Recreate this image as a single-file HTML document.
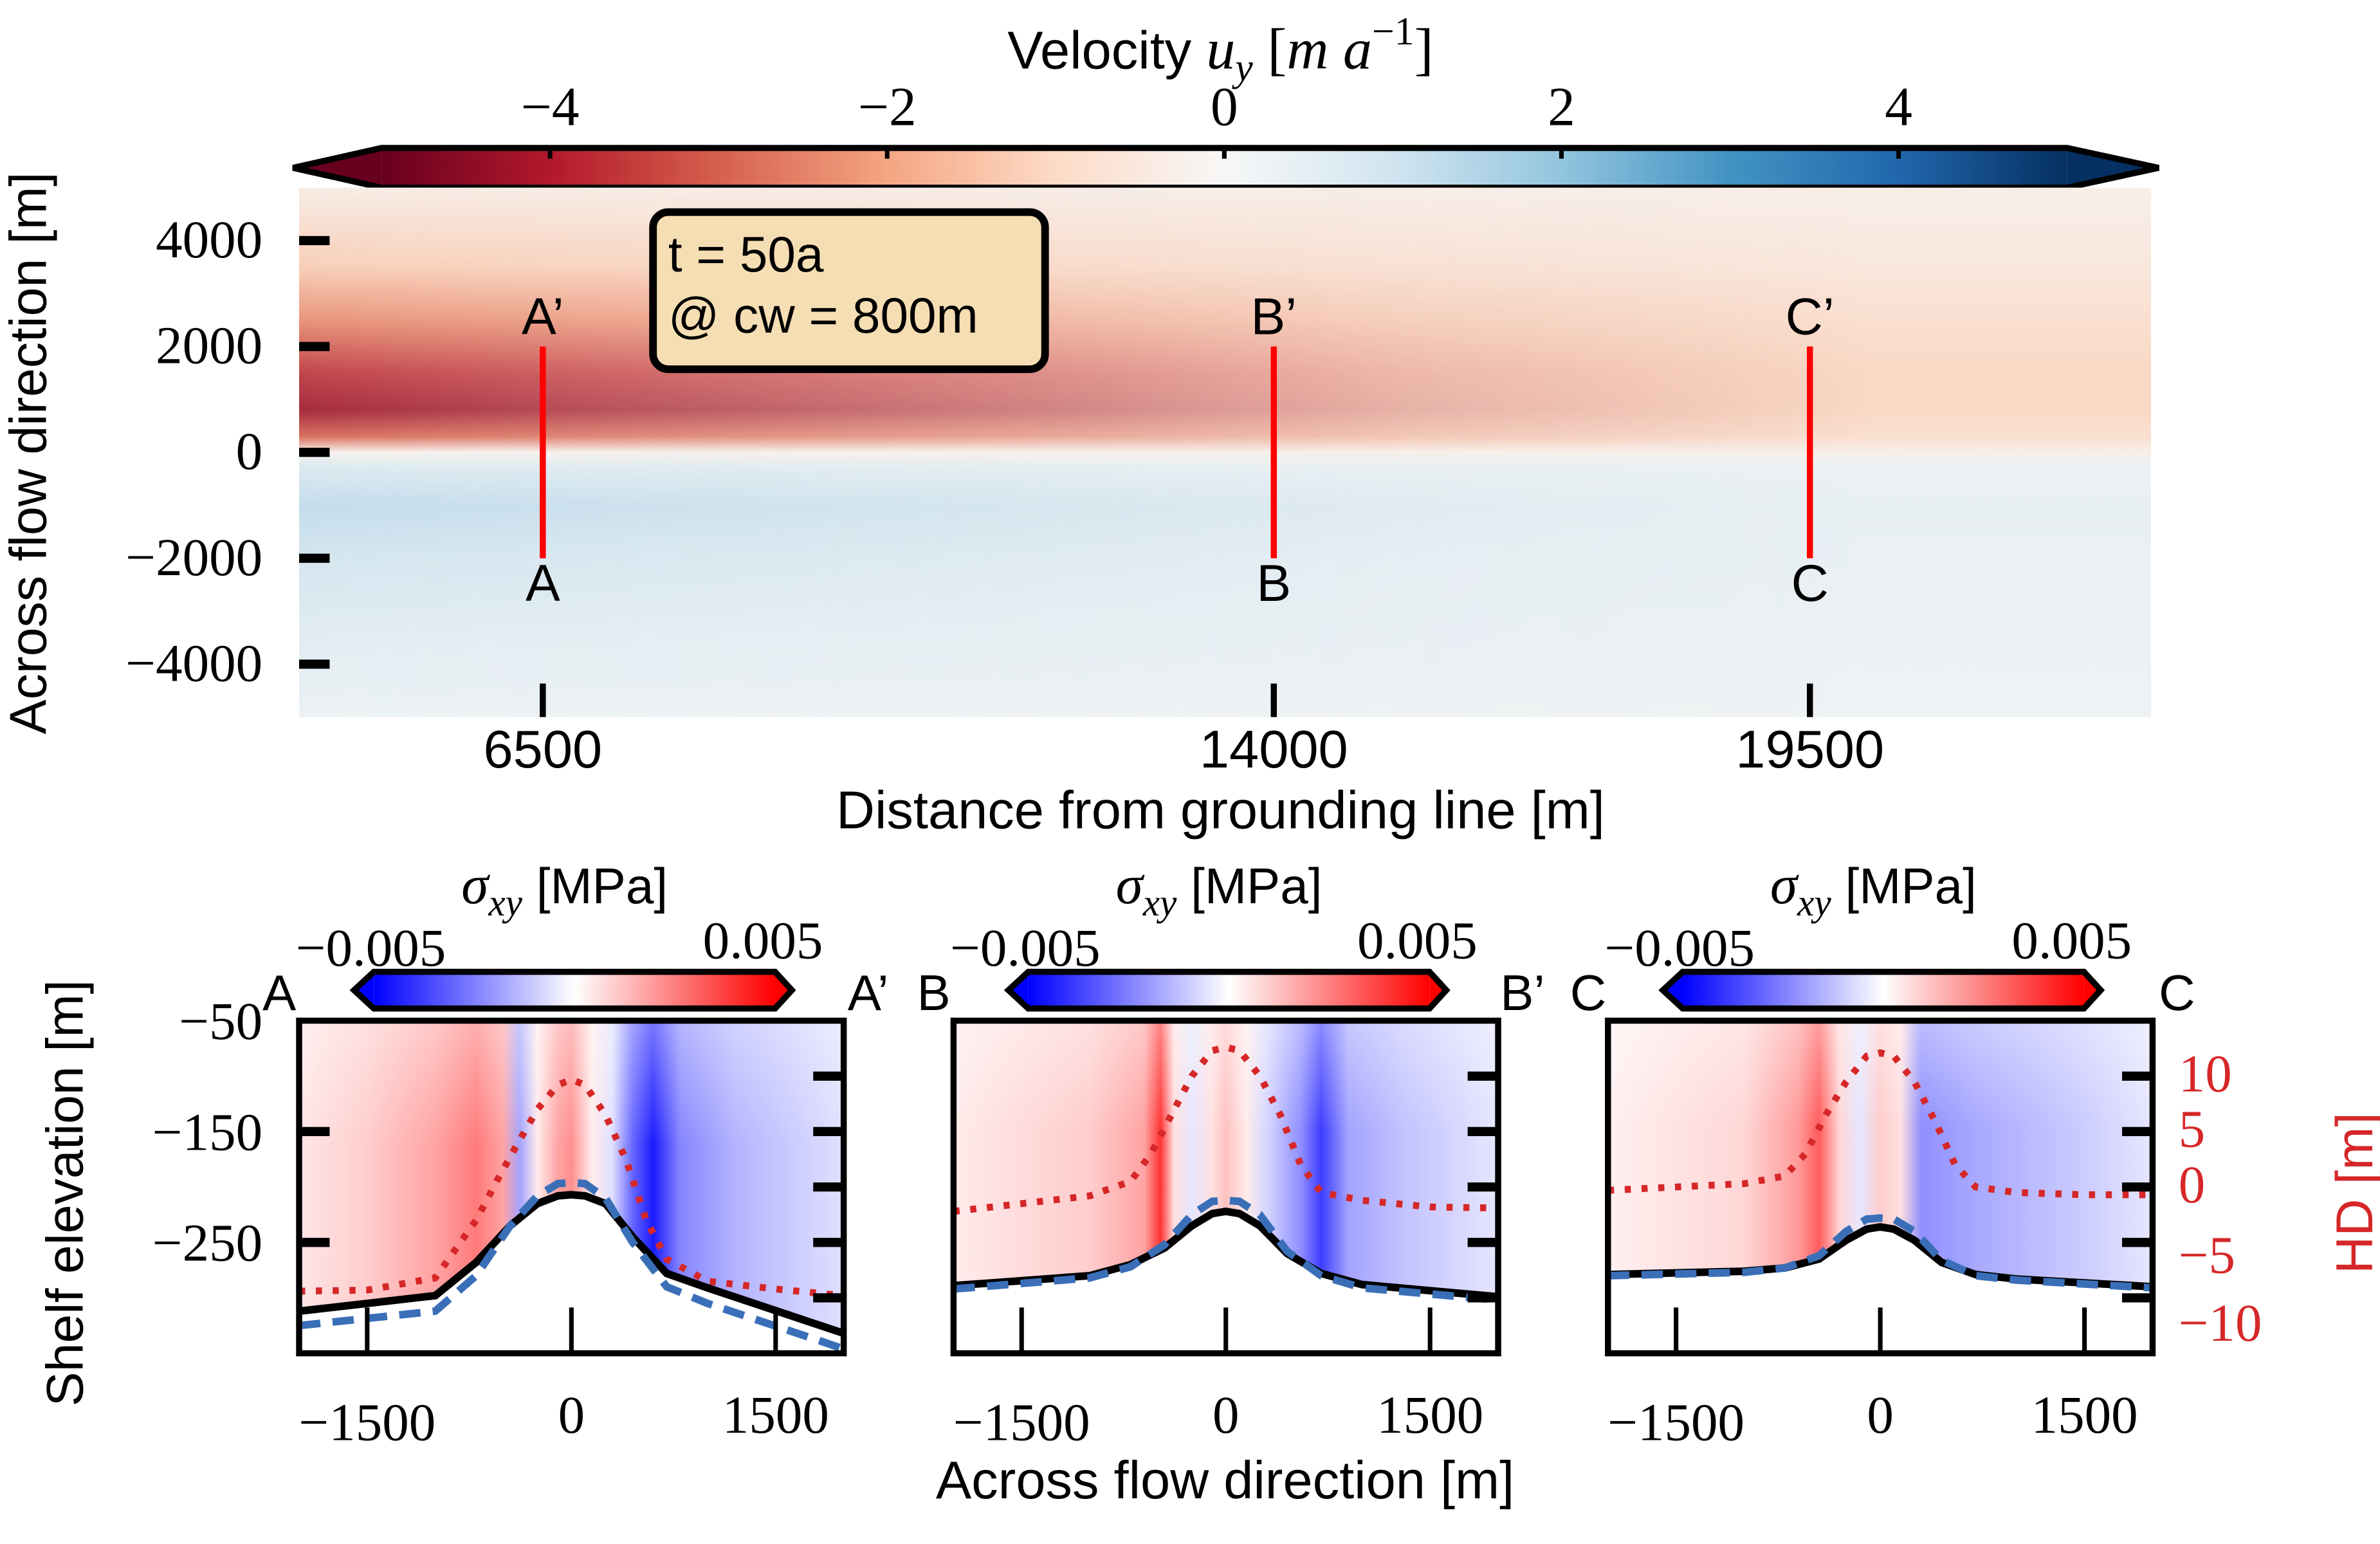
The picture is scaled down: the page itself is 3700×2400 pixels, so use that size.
<!DOCTYPE html>
<html><head><meta charset="utf-8"><style>
html,body{margin:0;padding:0;background:#fff;}
svg{display:block;}
.serif{font-family:"Liberation Serif","DejaVu Serif",serif;}
.sans{font-family:"Liberation Sans","DejaVu Sans",sans-serif;}
</style></head><body>
<svg id="fig" width="3700" height="2400" viewBox="0 0 1560 1012" xmlns="http://www.w3.org/2000/svg">
<defs id="defs"></defs>
<g id="root"></g>
</svg>
<script>
// ---------- data ----------
const cbTicks=[-4,-2,0,2,4];
const mapYTicks=[4000,2000,0,-2000,-4000];
const mapXTicks=[6500,14000,19500];
const sectionNames=[["A","A’"],["B","B’"],["C","C’"]];
const profileY=[5000,3500,2500,1500,800,300,0,-300,-1000,-2000,-3500,-5000];
const uyLeft=[-0.4,-1.3,-2.4,-3.7,-4.3,-3.0,-0.2,0.8,1.3,1.0,0.6,0.3];
const uyRight=[-0.3,-0.6,-0.9,-1.1,-1.1,-0.9,-0.3,0.3,0.4,0.35,0.3,0.25];

const elevTicks=[-150,-250];
const elevTickLabels=[-50,-150,-250];
const hdTicks=[10,5,0,-5,-10];
const acrossTicks=[-1500,0,1500];

const bedX1=[-2000,-1000,-700,-450,-250,-100,0,100,250,450,700,1000,2000];
const bedY1=[-312,-298,-268,-235,-215,-208,-207,-208,-215,-245,-278,-291,-332];
const blueY1=[-325,-312,-280,-235,-208,-197,-196,-197,-210,-250,-290,-305,-346];
const hdX1=[-2000,-1500,-1000,-700,-550,-400,-250,-100,0,100,250,400,550,700,1000,1500,2000];
const hd1=[-9.4,-9.3,-8.2,-3,0.5,3.8,7,9.2,9.7,9.2,6.5,2.5,-3,-6.5,-8.5,-9.2,-9.8];

const bedY2=[-289,-280,-270,-255,-235,-224,-222,-224,-235,-260,-278,-288,-299];
const blueY2=[-292,-282,-272,-252,-225,-213,-212,-213,-225,-258,-280,-291,-302];
const hd2=[-2.2,-1.5,-0.8,0.5,3,6.5,10,12.3,12.6,12.3,10,6.5,2,-0.5,-1.2,-1.8,-1.9];

const bedY3=[-279,-276,-273,-265,-248,-238,-236,-238,-248,-268,-279,-283,-290];
const blueY3=[-280,-277,-273,-262,-240,-229,-228,-229,-240,-266,-280,-284,-291];
const hd3=[-0.3,0,0.3,1,3,6.5,9.5,11.8,12.1,11.8,9.5,6,2,0,-0.5,-0.7,-0.7];

const sigX1=[-2000,-1500,-1000,-700,-500,-380,-250,-100,0,150,300,450,600,800,1200,2000];
const sig1=[0.0005,0.001,0.0018,0.0026,0.0018,-0.0018,0.0004,0.0018,0.0022,0.0004,-0.0006,-0.003,-0.0045,-0.0024,-0.0015,-0.0006];
const sigX2=[-2000,-1000,-600,-480,-380,-250,-100,0,150,300,550,700,900,1300,2000];
const sig2=[0.0004,0.001,0.0018,0.004,0.0006,-0.0005,0.0006,0.0012,0.0004,-0.0008,-0.0022,-0.0038,-0.0018,-0.0012,-0.0005];
const sigX3=[-2000,-1000,-600,-450,-300,-150,0,150,300,450,700,1500,2000];
const sig3=[0.0003,0.0008,0.002,0.0032,0.0008,-0.0005,0.001,0.0006,-0.0022,-0.002,-0.0017,-0.001,-0.0005];

// ---------- helpers ----------
const NS="http://www.w3.org/2000/svg";
const root=document.getElementById('root');
const defs=document.getElementById('defs');
function el(tag,attrs,parent,text){const e=document.createElementNS(NS,tag);for(const k in attrs)e.setAttribute(k,attrs[k]);if(text!==undefined)e.textContent=text;(parent||root).appendChild(e);return e;}
const RDBU=[[103,0,31],[178,24,43],[214,96,77],[244,165,130],[253,219,199],[247,247,247],[209,229,240],[146,197,222],[67,147,195],[33,102,172],[5,48,97]];
function rdbu(v){let t=(v+5)/10;t=Math.max(0,Math.min(1,t))*10;const i=Math.min(9,Math.floor(t));const f=t-i;const a=RDBU[i],b=RDBU[i+1];return `rgb(${a.map((c,k)=>Math.round(c+(b[k]-c)*f)).join(',')})`;}
function bwr(v){let t=Math.max(-1,Math.min(1,v/0.005));if(t<0){const w=Math.round(255*(1+t));return `rgb(${w},${w},255)`;}const w=Math.round(255*(1-t));return `rgb(255,${w},${w})`;}
function minus(n){return String(n).replace('-','−');}

// ---------- top colorbar ----------
const cbL=250,cbR=1355,cbT=97,cbB=123;
const cbx=v=>cbL+(v+5)/10*(cbR-cbL);
let g=el('linearGradient',{id:'gcb',x1:'0',x2:'1',y1:'0',y2:'0'},defs);
for(let i=0;i<=20;i++){el('stop',{offset:i/20,'stop-color':rdbu(-5+i/2)},g);}
const cbg=el('g',{});


el('polygon',{points:`192,110 ${cbL},${cbT} ${cbL},${cbB}`,fill:'rgb(103,0,31)'},cbg);
el('polygon',{points:`1415,110 ${cbR},${cbT} ${cbR},${cbB}`,fill:'rgb(5,48,97)'},cbg);
el('rect',{x:cbL,y:cbT,width:cbR-cbL,height:cbB-cbT,fill:'url(#gcb)'},cbg);
el('polygon',{points:`192,110 ${cbL},${cbT} ${cbR},${cbT} 1415,110 ${cbR},${cbB} ${cbL},${cbB}`,fill:'none',stroke:'#000','stroke-width':4,'stroke-linejoin':'miter'},cbg);
cbTicks.forEach(v=>{
  el('line',{x1:cbx(v),x2:cbx(v),y1:cbT,y2:cbT+7,stroke:'#000','stroke-width':3},cbg);
  const t=el('text',{x:cbx(v),y:82,'text-anchor':'middle','font-size':36,class:'serif'},cbg,minus(v));
  
  
});
const ttl=el('text',{x:800,y:45,'text-anchor':'middle','font-size':35,class:'sans'},root);


ttl.innerHTML='Velocity <tspan class="serif" font-style="italic" font-size="38">u</tspan><tspan class="serif" font-style="italic" font-size="26" dy="8">y</tspan><tspan class="serif" font-size="38" dy="-8"> [</tspan><tspan class="serif" font-style="italic" font-size="38">m a</tspan><tspan class="serif" font-size="26" dy="-16">−1</tspan><tspan class="serif" font-size="38" dy="16">]</tspan>';

// ---------- map ----------
const mL=196,mR=1410,mT=123,mB=470;
const mx=v=>mL+(v-4000)/19000*(mR-mL);
const my=v=>mT+(5000-v)/10000*(mB-mT);
function vgrad(id,vals){const gg=el('linearGradient',{id:id,x1:'0',x2:'0',y1:'0',y2:'1'},defs);
  profileY.forEach((y,i)=>el('stop',{offset:(5000-y)/10000,'stop-color':rdbu(vals[i])},gg));}
vgrad('gright',uyRight);vgrad('gleft',uyLeft);
const mk=el('linearGradient',{id:'gmask',x1:'0',x2:'1',y1:'0',y2:'0'},defs);
[[0,1],[0.15,0.8],[0.4,0.5],[0.6,0.22],[0.85,0]].forEach(s=>el('stop',{offset:s[0],'stop-color':'#fff','stop-opacity':s[1]},mk));
const mask=el('mask',{id:'mmask'},defs);
el('rect',{x:mL,y:mT,width:mR-mL,height:mB-mT,fill:'url(#gmask)'},mask);
const mapg=el('g',{});


el('rect',{x:mL,y:mT,width:mR-mL,height:mB-mT,fill:'url(#gright)'},mapg);
el('rect',{x:mL,y:mT,width:mR-mL,height:mB-mT,fill:'url(#gleft)',mask:'url(#mmask)'},mapg);
el('rect',{x:mL,y:mT,width:mR-mL,height:mB-mT,fill:'rgba(238,240,242,0.12)'},mapg);
mapYTicks.forEach(v=>{
  el('line',{x1:mL,x2:mL+20,y1:my(v),y2:my(v),stroke:'#000','stroke-width':6},mapg);
  const t=el('text',{x:172,y:my(v)+11,'text-anchor':'end','font-size':35,class:'serif'},root,minus(v));
  
  
});
mapXTicks.forEach((v,i)=>{
  el('line',{x1:mx(v),x2:mx(v),y1:mB,y2:mB-22,stroke:'#000','stroke-width':4},mapg);
  const t=el('text',{x:mx(v),y:503,'text-anchor':'middle','font-size':35,class:'sans'},root,String(v));
  
  
  const ln=el('line',{x1:mx(v),x2:mx(v),y1:my(2000),y2:my(-2000),stroke:'#ff0000','stroke-width':4},root);
  
  
  el('text',{x:mx(v),y:my(2000)-8,'text-anchor':'middle','font-size':34,class:'sans'},root,sectionNames[i][1]);
  el('text',{x:mx(v),y:my(-2000)+28,'text-anchor':'middle','font-size':34,class:'sans'},root,sectionNames[i][0]);
});
const box=el('g',{});


el('rect',{x:428,y:139,width:257,height:103,rx:10,fill:'#f5deb3',stroke:'#000','stroke-width':5},box);
el('text',{x:438,y:178,'font-size':33,class:'sans'},box,'t = 50a');
el('text',{x:438,y:218,'font-size':33,class:'sans'},box,'@ cw = 800m');
let t=el('text',{x:0,y:0,transform:'translate(30,297) rotate(-90)','text-anchor':'middle','font-size':34,class:'sans'},root,'Across flow direction [m]');

t=el('text',{x:800,y:543,'text-anchor':'middle','font-size':35,class:'sans'},root,'Distance from grounding line [m]');


// ---------- bottom panels ----------
const pT=669,pB=887,pW=357;
const panelsL=[196,625,1054];
const bedAll=[bedY1,bedY2,bedY3],blueAll=[blueY1,blueY2,blueY3],hdAll=[hd1,hd2,hd3];
const sigXAll=[sigX1,sigX2,sigX3],sigAll=[sig1,sig2,sig3];
const ey=v=>pT+(-50-v)/300*(pB-pT);
const hy=v=>pT+(15-v)/30*(pB-pT);
const rightLabels=['A’','B’','C'];
panelsL.forEach((L,p)=>{
  const px=v=>L+(v+2000)/4000*pW;
  const pg=el('g',{});
  
  
  const gg=el('linearGradient',{id:'gs'+p,x1:'0',x2:'1',y1:'0',y2:'0'},defs);
  sigXAll[p].forEach((x,i)=>el('stop',{offset:(x+2000)/4000,'stop-color':bwr(sigAll[p][i])},gg));
  const fade=el('linearGradient',{id:'gf'+p,x1:'0',x2:'0',y1:'0',y2:'1'},defs);
  el('stop',{offset:0,'stop-color':'#fff','stop-opacity':0.4},fade);
  el('stop',{offset:0.4,'stop-color':'#fff','stop-opacity':0},fade);
  let d=`M${L},${pT} L${L+pW},${pT} `;
  for(let i=bedX1.length-1;i>=0;i--)d+=`L${px(bedX1[i])},${ey(bedAll[p][i])} `;
  d+='Z';
  const hm=el('path',{d:d,fill:'url(#gs'+p+')'},pg);
  
  
  el('path',{d:d,fill:'url(#gf'+p+')'},pg);
  const line=(xs,ys,f)=>xs.map((x,i)=>(i?'L':'M')+px(x)+','+f(ys[i])).join(' ');
  const hd=el('path',{d:line(hdX1,hdAll[p],hy),fill:'none',stroke:'#d62728','stroke-width':4.5,'stroke-dasharray':'4 7'},pg);
  
  const bk=el('path',{d:line(bedX1,bedAll[p],ey),fill:'none',stroke:'#000','stroke-width':5},pg);
  
  const bl=el('path',{d:line(bedX1,blueAll[p],ey),fill:'none',stroke:'#3a6fb8','stroke-width':5,'stroke-dasharray':'14 8'},pg);
  
  el('rect',{x:L,y:pT,width:pW,height:pB-pT,fill:'none',stroke:'#000','stroke-width':4},pg);
  acrossTicks.forEach(v=>{
    el('line',{x1:px(v),x2:px(v),y1:pB,y2:pB-30,stroke:'#000','stroke-width':3},pg);
    const tt=el('text',{x:px(v),y:v<0?944:939,'text-anchor':'middle','font-size':35,class:'serif'},root,minus(v));
    
  });
  hdTicks.forEach(v=>el('line',{x1:L+pW,x2:L+pW-20,y1:hy(v),y2:hy(v),stroke:'#000','stroke-width':6},pg));
  if(p===0){elevTicks.forEach(v=>el('line',{x1:L,x2:L+20,y1:ey(v),y2:ey(v),stroke:'#000','stroke-width':6},pg));}
  const cl=L+49,cr=L+312,ct=637,cb2=661,cm=649;
  const cg=el('linearGradient',{id:'gc'+p,x1:'0',x2:'1',y1:'0',y2:'0'},defs);
  for(let i=0;i<=10;i++)el('stop',{offset:i/10,'stop-color':bwr(-0.005+i*0.001)},cg);
  const cbx2=el('g',{},root);
  
  el('polygon',{points:`${L+36},${cm} ${cl},${ct} ${cl},${cb2}`,fill:'#00f'},cbx2);
  el('polygon',{points:`${L+323},${cm} ${cr},${ct} ${cr},${cb2}`,fill:'#f00'},cbx2);
  el('rect',{x:cl,y:ct,width:cr-cl,height:cb2-ct,fill:'url(#gc'+p+')'},cbx2);
  el('polygon',{points:`${L+36},${cm} ${cl},${ct} ${cr},${ct} ${L+323},${cm} ${cr},${cb2} ${cl},${cb2}`,fill:'none',stroke:'#000','stroke-width':4},cbx2);
  el('text',{x:L+47,y:633,'text-anchor':'middle','font-size':35,class:'serif'},root,'−0.005');
  el('text',{x:L+304,y:628,'text-anchor':'middle','font-size':35,class:'serif'},root,'0.005');
  const st=el('text',{x:L+174,y:592,'text-anchor':'middle','font-size':33,class:'sans'},root);
  
  st.innerHTML='<tspan class="serif" font-style="italic" font-size="36">σ</tspan><tspan class="serif" font-style="italic" font-size="25" dy="8">xy</tspan><tspan dy="-8"> [MPa]</tspan>';
  el('text',{x:L-13,y:662,'text-anchor':'middle','font-size':33,class:'sans'},root,sectionNames[p][0]);
  el('text',{x:L+pW+16,y:662,'text-anchor':'middle','font-size':33,class:'sans'},root,rightLabels[p]);
});
elevTickLabels.forEach(v=>{
  const tt=el('text',{x:172,y:ey(v)+12,'text-anchor':'end','font-size':35,class:'serif'},root,minus(v));
  
});
hdTicks.forEach(v=>{
  const tt=el('text',{x:1428,y:hy(v)+(v<0?20:10)+(v===-10?8:0),'font-size':35,fill:'#d62728',class:'serif'},root,minus(v));
  
});
t=el('text',{x:0,y:0,transform:'translate(54,782) rotate(-90)','text-anchor':'middle','font-size':34,class:'sans'},root,'Shelf elevation [m]');

t=el('text',{x:0,y:0,transform:'translate(1555,782) rotate(-90)','text-anchor':'middle','font-size':34,fill:'#d62728',class:'sans'},root,'HD [m]');

t=el('text',{x:803,y:982,'text-anchor':'middle','font-size':35,class:'sans'},root,'Across flow direction [m]');

</script>
</body></html>
